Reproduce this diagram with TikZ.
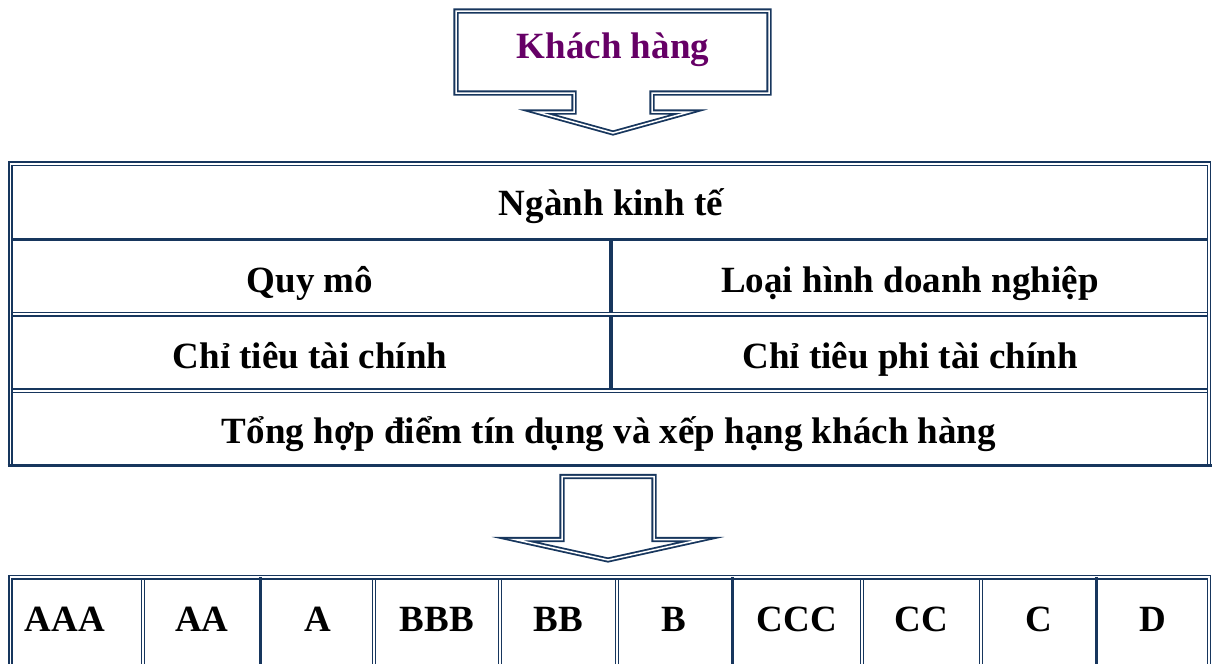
\documentclass[tikz,border=0pt]{standalone}
\usepackage{fontspec}
\setmainfont{Liberation Serif}
\definecolor{navy}{RGB}{23,54,93}
\definecolor{purp}{RGB}{102,0,102}
\begin{document}
\begin{tikzpicture}[x=1pt,y=-1pt,
  lbl/.style={inner sep=0pt, anchor=base, font=\bfseries\fontsize{37}{40}\selectfont},
  dbl/.style={draw=navy, line width=1.8pt, double=white, double distance=1.5pt, line join=miter, miter limit=20},
  outl/.style={draw=navy, line width=1.8pt},
  inl/.style={draw=navy, line width=1.5pt},
  thickl/.style={draw=navy, line width=3pt},
  vthick/.style={draw=navy, line width=3.5pt}]
\useasboundingbox (0,0) rectangle (1213,664);

% top callout
\draw[dbl] (456,11) -- (769,11) -- (769,93) -- (652,93) -- (652,112) -- (689,112) -- (613,133) -- (537,112) -- (574,112) -- (574,93) -- (456,93) -- cycle;
\node[lbl, text=purp] (kh) at (613,58) {Khách hàng};

% table
\draw[outl] (9,466) -- (9,162) -- (1210.5,162) -- (1210.5,466);
\draw[inl] (12,465) -- (12,165.5) -- (1207.5,165.5) -- (1207.5,465);
\draw[thickl] (7.5,465.5) -- (1211.5,465.5);
\draw[thickl] (12,239) -- (1207.5,239);
\draw[outl] (12,312.5) -- (1207.5,312.5);
\draw[inl] (12,316) -- (1207.5,316);
\draw[outl] (12,389) -- (1207.5,389);
\draw[inl] (12,392.3) -- (1207.5,392.3);
\draw[vthick] (611,240) -- (611,311.6);
\draw[vthick] (611,316.8) -- (611,388.2);

\node[lbl] (nganh) at (611,215) {Ngành kinh tế};
\node[lbl] (quymo) at (310,292) {Quy mô};
\node[lbl] (loai) at (910,292) {Loại hình doanh nghiệp};
\node[lbl] (cttc) at (310,368) {Chỉ tiêu tài chính};
\node[lbl] (ctptc) at (910,368) {Chỉ tiêu phi tài chính};
\node[lbl] (tong) at (609,443) {Tổng hợp điểm tín dụng và xếp hạng khách hàng};

% middle arrow
\draw[dbl] (562,476.5) -- (654,476.5) -- (654,539.5) -- (701,539.5) -- (608,560) -- (515,539.5) -- (562,539.5) -- cycle;

% grade row
\draw[outl] (9,680) -- (9,575.5) -- (1210.5,575.5) -- (1210.5,680);
\draw[inl] (12,680) -- (12,579) -- (1207.5,579) -- (1207.5,680);
\foreach \x in {143,374,500,617,862,981}{
  \draw[inl] (\x-1.7,579) -- (\x-1.7,680);
  \draw[inl] (\x+1.7,579) -- (\x+1.7,680);
}
\foreach \x in {260,732,1096}{
  \draw[thickl] (\x,577) -- (\x,680);
}
\node[lbl] (gAAA) at (65,631) {AAA};
\node[lbl] (gAA) at (202,631) {AA};
\node[lbl] (gA) at (318,631) {A};
\node[lbl] (gBBB) at (437,631) {BBB};
\node[lbl] (gBB) at (558,631) {BB};
\node[lbl] (gB) at (674,631) {B};
\node[lbl] (gCCC) at (797,631) {CCC};
\node[lbl] (gCC) at (921,631) {CC};
\node[lbl] (gC) at (1039,631) {C};
\node[lbl] (gD) at (1153,631) {D};
\end{tikzpicture}
\end{document}
